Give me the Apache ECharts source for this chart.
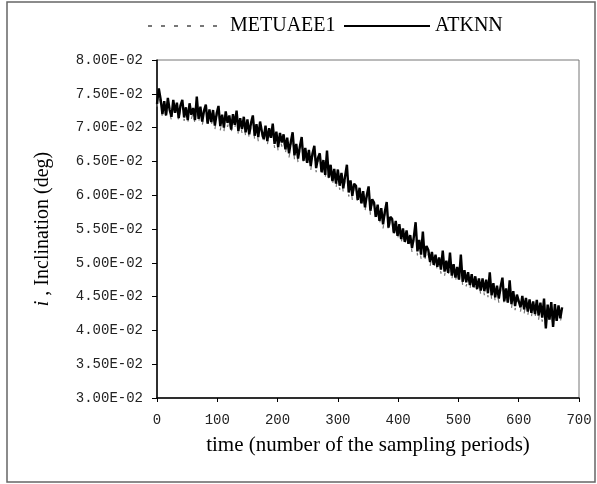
<!DOCTYPE html>
<html>
<head>
<meta charset="utf-8">
<script src="https://cdn.jsdelivr.net/npm/echarts@6/dist/echarts.min.js"></script>
<style>
html,body{margin:0;padding:0;background:#fff;}
#chart{width:597px;height:484px;}
</style>
</head>
<body>
<div id="chart"></div>
<script>
// sampling step between stored points (number of sampling periods)
const sampleStep = 3;

const seriesNames = ['METUAEE1', 'ATKNN'];

const metuaee1 = [
0.0731,0.0746,0.0735,0.0715,0.0734,0.0712,0.0738,0.0721,0.0711,0.0735,
0.0717,0.0731,0.0709,0.0728,0.0735,0.0710,0.0724,0.0706,0.0730,0.0713,
0.0723,0.0705,0.0738,0.0707,0.0725,0.0703,0.0719,0.0728,0.0700,0.0721,
0.0702,0.0720,0.0697,0.0715,0.0726,0.0696,0.0713,0.0694,0.0718,0.0701,
0.0712,0.0691,0.0714,0.0698,0.0718,0.0689,0.0708,0.0692,0.0710,0.0687,
0.0705,0.0684,0.0701,0.0711,0.0682,0.0699,0.0680,0.0702,0.0688,0.0677,
0.0696,0.0674,0.0693,0.0679,0.0699,0.0670,0.0688,0.0665,0.0686,0.0672,
0.0683,0.0662,0.0679,0.0656,0.0673,0.0686,0.0653,0.0670,0.0648,0.0666,
0.0677,0.0645,0.0664,0.0642,0.0661,0.0637,0.0656,0.0666,0.0634,0.0649,
0.0655,0.0628,0.0646,0.0624,0.0658,0.0620,0.0639,0.0615,0.0633,0.0611,
0.0631,0.0608,0.0627,0.0604,0.0622,0.0637,0.0598,0.0616,0.0593,0.0611,
0.0607,0.0587,0.0605,0.0582,0.0600,0.0576,0.0594,0.0606,0.0571,0.0588,
0.0582,0.0562,0.0580,0.0556,0.0575,0.0551,0.0570,0.0582,0.0546,0.0562,
0.0558,0.0538,0.0556,0.0534,0.0551,0.0529,0.0545,0.0525,0.0542,0.0522,
0.0534,0.0516,0.0532,0.0551,0.0511,0.0528,0.0506,0.0538,0.0502,0.0519,
0.0512,0.0495,0.0510,0.0491,0.0506,0.0488,0.0502,0.0484,0.0510,0.0481,
0.0496,0.0479,0.0507,0.0475,0.0492,0.0472,0.0488,0.0469,0.0503,0.0466,
0.0482,0.0465,0.0480,0.0461,0.0477,0.0458,0.0474,0.0455,0.0471,0.0453,
0.0470,0.0452,0.0469,0.0449,0.0478,0.0446,0.0464,0.0443,0.0460,0.0441,
0.0458,0.0470,0.0437,0.0456,0.0435,0.0466,0.0433,0.0452,0.0430,0.0447,
0.0448,0.0428,0.0445,0.0425,0.0442,0.0422,0.0440,0.0420,0.0437,0.0418,
0.0438,0.0416,0.0435,0.0413,0.0440,0.0399,0.0432,0.0410,0.0436,0.0401,
0.0432,0.0408,0.0431,0.0412,0.0428
];

const atknn = [
0.0735,0.0758,0.0742,0.0720,0.0739,0.0718,0.0744,0.0726,0.0716,0.0741,
0.0722,0.0737,0.0714,0.0733,0.0741,0.0715,0.0730,0.0711,0.0736,0.0719,
0.0729,0.0711,0.0746,0.0713,0.0731,0.0709,0.0725,0.0734,0.0706,0.0727,
0.0708,0.0726,0.0703,0.0721,0.0732,0.0702,0.0719,0.0700,0.0724,0.0707,
0.0718,0.0697,0.0720,0.0704,0.0725,0.0695,0.0714,0.0698,0.0716,0.0693,
0.0712,0.0690,0.0707,0.0718,0.0688,0.0705,0.0686,0.0709,0.0694,0.0683,
0.0703,0.0680,0.0699,0.0685,0.0706,0.0676,0.0694,0.0671,0.0692,0.0678,
0.0690,0.0668,0.0685,0.0662,0.0679,0.0693,0.0659,0.0676,0.0654,0.0672,
0.0686,0.0651,0.0670,0.0648,0.0667,0.0643,0.0662,0.0673,0.0640,0.0655,
0.0662,0.0634,0.0652,0.0630,0.0666,0.0626,0.0645,0.0621,0.0639,0.0617,
0.0638,0.0614,0.0633,0.0610,0.0628,0.0645,0.0604,0.0622,0.0599,0.0617,
0.0614,0.0593,0.0611,0.0588,0.0606,0.0582,0.0600,0.0613,0.0577,0.0594,
0.0589,0.0568,0.0586,0.0562,0.0581,0.0557,0.0576,0.0590,0.0552,0.0568,
0.0565,0.0544,0.0562,0.0540,0.0557,0.0535,0.0551,0.0531,0.0548,0.0528,
0.0541,0.0522,0.0538,0.0560,0.0517,0.0534,0.0512,0.0546,0.0508,0.0525,
0.0519,0.0501,0.0516,0.0497,0.0512,0.0494,0.0508,0.0490,0.0518,0.0487,
0.0503,0.0485,0.0515,0.0481,0.0498,0.0478,0.0494,0.0475,0.0512,0.0472,
0.0489,0.0471,0.0486,0.0467,0.0483,0.0464,0.0480,0.0461,0.0477,0.0459,
0.0477,0.0458,0.0475,0.0455,0.0486,0.0452,0.0470,0.0449,0.0466,0.0447,
0.0465,0.0478,0.0443,0.0462,0.0441,0.0474,0.0439,0.0458,0.0436,0.0453,
0.0455,0.0434,0.0451,0.0431,0.0448,0.0428,0.0446,0.0426,0.0443,0.0424,
0.0445,0.0422,0.0441,0.0419,0.0447,0.0403,0.0438,0.0416,0.0442,0.0405,
0.0439,0.0414,0.0437,0.0418,0.0434
];

const yTickLabels = ['3.00E-02','3.50E-02','4.00E-02','4.50E-02','5.00E-02','5.50E-02','6.00E-02','6.50E-02','7.00E-02','7.50E-02','8.00E-02'];
const xTickLabels = ['0','100','200','300','400','500','600','700'];

const toPairs = arr => arr.map((v, i) => [i * sampleStep, v]);

const chart = echarts.init(document.getElementById('chart'), null, {renderer: 'canvas'});

const tickFont = {fontFamily: 'Liberation Mono', fontSize: 14, color: '#222'};
const serif = 'Liberation Serif';

chart.setOption({
  animation: false,
  backgroundColor: '#fff',
  graphic: [{
    type: 'rect',
    shape: {x: 7, y: 2, width: 588, height: 480},
    style: {fill: 'none', stroke: '#666', lineWidth: 1.5},
    silent: true
  }],
  legend: [{
    data: [seriesNames[0]],
    left: 147, top: 16, padding: 0,
    itemWidth: 73, itemHeight: 12,
    itemStyle: {opacity: 0},
    textStyle: {fontFamily: serif, fontSize: 20, color: '#000', padding: [0, 0, 0, 4]}
  }, {
    data: [seriesNames[1]],
    left: 343, top: 16, padding: 0,
    itemWidth: 86, itemHeight: 12,
    itemStyle: {opacity: 0},
    textStyle: {fontFamily: serif, fontSize: 20, color: '#000'}
  }],
  grid: {
    left: 157, top: 60, right: 18, bottom: 86,
    show: true, borderColor: '#777', borderWidth: 1, backgroundColor: 'transparent'
  },
  xAxis: {
    type: 'value', min: 0, max: 700, interval: 100,
    name: 'time (number of the sampling periods)',
    nameLocation: 'middle', nameGap: 37,
    nameTextStyle: {fontFamily: serif, fontSize: 21, color: '#000'},
    axisLine: {show: true, onZero: false, lineStyle: {color: '#000', width: 1.5}},
    axisTick: {show: true, inside: false, length: 4, lineStyle: {color: '#000'}},
    axisLabel: Object.assign({margin: 15, formatter: (v) => xTickLabels[Math.round(v / 100)]}, tickFont),
    splitLine: {show: false}
  },
  yAxis: {
    type: 'value', min: 0.03, max: 0.08, interval: 0.005,
    name: '{it|i} , Inclination (deg)',
    nameLocation: 'middle', nameGap: 104, nameRotate: 90,
    nameTextStyle: {
      fontFamily: serif, fontSize: 20, color: '#000',
      rich: {it: {fontFamily: serif, fontSize: 20, fontStyle: 'italic', color: '#000'}}
    },
    axisLine: {show: true, onZero: false, lineStyle: {color: '#000', width: 1.5}},
    axisTick: {show: true, inside: false, length: 5, lineStyle: {color: '#000'}},
    axisLabel: Object.assign({margin: 14, formatter: (v) => yTickLabels[Math.round((v - 0.03) / 0.005)]}, tickFont),
    splitLine: {show: false}
  },
  series: [{
    name: seriesNames[0], type: 'line', data: toPairs(metuaee1),
    symbol: 'none', showSymbol: false,
    lineStyle: {color: '#777', width: 1.2, type: [4, 9]},
    itemStyle: {color: '#777'},
    z: 2
  }, {
    name: seriesNames[1], type: 'line', data: toPairs(atknn),
    symbol: 'none', showSymbol: false,
    lineStyle: {color: '#000', width: 2.4},
    itemStyle: {color: '#000'},
    z: 3
  }]
});
</script>
</body>
</html>
